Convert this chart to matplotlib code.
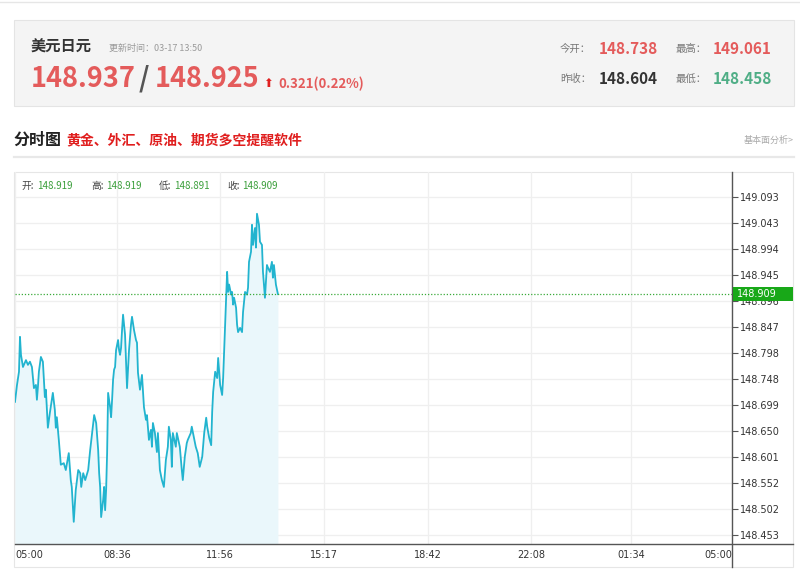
import matplotlib
matplotlib.use('Agg')
import matplotlib.pyplot as plt
from matplotlib.patches import Rectangle
from matplotlib.lines import Line2D

plt.rcParams['font.family'] = ['Noto Sans CJK SC', 'DejaVu Sans']

# minutes after 05:00 and price
minutes = [0, 4, 8, 10, 12, 16, 22, 26, 30, 34, 38, 42, 44, 46, 48, 52, 56, 60, 62, 66,
           70, 76, 80, 82, 84, 88, 92, 98, 102, 108, 112, 114, 118, 122, 127, 131, 133, 137, 141, 147,
           151, 159, 163, 167, 169, 171, 173, 177, 179, 181, 183, 185, 187, 191, 193, 195, 197, 199, 201, 203,
           205, 207, 209, 211, 213, 215, 217, 221, 225, 229, 233, 235, 239, 243, 245, 247, 251, 255, 259, 263,
           265, 269, 273, 275, 277, 281, 285, 287, 291, 295, 299, 303, 307, 309, 313, 315, 317, 323, 325, 331,
           335, 337, 341, 345, 347, 353, 355, 359, 363, 367, 371, 376, 380, 384, 386, 390, 394, 396, 398, 402,
           406, 408, 412, 416, 418, 422, 424, 426, 428, 430, 434, 436, 438, 440, 444, 446, 448, 452, 456, 458,
           462, 466, 468, 470, 474, 476, 478, 482, 484, 486, 490, 492, 496, 498, 502, 506, 508, 512, 516, 518,
           520, 524, 528]
prices = [148.705, 148.737, 148.762, 148.828, 148.794, 148.771, 148.784, 148.775, 148.781, 148.771,
          148.731, 148.737, 148.709, 148.733, 148.762, 148.790, 148.781, 148.714, 148.728, 148.656,
          148.684, 148.722, 148.690, 148.656, 148.676, 148.633, 148.586, 148.589, 148.576, 148.608,
          148.557, 148.544, 148.478, 148.538, 148.576, 148.570, 148.544, 148.570, 148.557, 148.576,
          148.614, 148.680, 148.665, 148.614, 148.570, 148.544, 148.487, 148.519, 148.544, 148.500,
          148.538, 148.608, 148.722, 148.695, 148.676, 148.709, 148.747, 148.766, 148.771, 148.803,
          148.813, 148.822, 148.803, 148.794, 148.807, 148.841, 148.870, 148.832, 148.731, 148.803,
          148.851, 148.866, 148.841, 148.822, 148.817, 148.760, 148.728, 148.756, 148.695, 148.671,
          148.680, 148.633, 148.652, 148.620, 148.665, 148.646, 148.610, 148.646, 148.576, 148.557,
          148.544, 148.595, 148.620, 148.658, 148.633, 148.582, 148.646, 148.620, 148.646, 148.620,
          148.576, 148.557, 148.601, 148.627, 148.633, 148.646, 148.658, 148.639, 148.620, 148.608,
          148.582, 148.601, 148.646, 148.675, 148.658, 148.637, 148.623, 148.686, 148.724, 148.762,
          148.750, 148.788, 148.737, 148.718, 148.750, 148.851, 148.902, 148.951, 148.913, 148.927,
          148.908, 148.913, 148.889, 148.902, 148.883, 148.851, 148.837, 148.845, 148.837, 148.875,
          148.913, 148.908, 148.921, 148.970, 148.989, 149.040, 149.002, 149.034, 148.997, 149.061,
          149.040, 149.008, 149.002, 148.951, 148.902, 148.964, 148.959, 148.951, 148.970, 148.940,
          148.964, 148.927, 148.909]

y_ticks = ['149.093', '149.043', '148.994', '148.945', '148.896', '148.847', '148.798',
           '148.748', '148.699', '148.650', '148.601', '148.552', '148.502', '148.453']
x_ticks = [0, 205, 412, 621, 830, 1036, 1237, 1440]
x_labels = ['05:00', '08:36', '11:56', '15:17', '18:42', '22:08', '01:34', '05:00']
last_price = 148.909
bar_labels = ['开:', '高:', '低:', '收:']
bar_values = ['148.919', '148.919', '148.891', '148.909']

W, H = 800, 585
fig = plt.figure(figsize=(8, 5.85), dpi=100, facecolor='white')
fx = lambda x: x / W
fy = lambda y: 1 - y / H

def txt(x, y, s, **kw):
    kw.setdefault('va', 'center')
    fig.text(fx(x), fy(y), s, **kw)

def hline(x0, x1, y, **kw):
    fig.add_artist(Line2D([fx(x0), fx(x1)], [fy(y), fy(y)], transform=fig.transFigure, **kw))

def vline(x, y0, y1, **kw):
    fig.add_artist(Line2D([fx(x), fx(x)], [fy(y0), fy(y1)], transform=fig.transFigure, **kw))

RED = '#e45b5b'
GREEN_Q = '#4fae86'

# top quote card
hline(0, 800, 1.5, color='#e6e6e6', lw=1)
fig.add_artist(Rectangle((fx(14), fy(106)), fx(780), 86 / H, transform=fig.transFigure,
                         facecolor='#f4f4f4', edgecolor='#e4e4e4', lw=0.8, zorder=-1))
txt(31, 47, '美元日元', fontsize=11, weight='bold', color='#333333')
txt(109, 48, '更新时间：03-17 13:50', fontsize=6.5, color='#9a9a9a')
txt(31, 79, '148.937', fontsize=19.5, weight='bold', color=RED)
txt(139, 79, '/', fontsize=19.5, weight='bold', color='#555555')
txt(155, 79, '148.925', fontsize=19.5, weight='bold', color=RED)
txt(263, 84, '⬆', fontsize=8.5, color='#e02020', family=['DejaVu Sans'])
txt(278, 84, '0.321(0.22%)', fontsize=9.5, weight='bold', color=RED)

txt(560, 49, '今开：', fontsize=7.5, color='#777777')
txt(599, 49, '148.738', fontsize=11, weight='bold', color=RED)
txt(676, 49, '最高：', fontsize=7.5, color='#777777')
txt(713, 49, '149.061', fontsize=11, weight='bold', color=RED)
txt(560, 79, '昨收：', fontsize=7.5, color='#777777')
txt(599, 79, '148.604', fontsize=11, weight='bold', color='#333333')
txt(676, 79, '最低：', fontsize=7.5, color='#777777')
txt(713, 79, '148.458', fontsize=11, weight='bold', color=GREEN_Q)

# section header
txt(13, 140, '分时图', fontsize=11.5, weight='bold', color='#222222')
txt(66, 140, '黄金、外汇、原油、期货多空提醒软件', fontsize=10, weight='bold', color='#e01e1e')
txt(794, 140, '基本面分析>', fontsize=6.5, color='#aaaaaa', ha='right')
hline(14, 794, 157, color='#e8e8e8', lw=1.6)

# chart frame
fig.add_artist(Rectangle((fx(14), fy(567)), fx(779), 395 / H, transform=fig.transFigure,
                         facecolor='white', edgecolor='#e6e6e6', lw=0.8, zorder=-1))

ax = fig.add_axes([fx(15), fy(544), fx(732 - 15), (544 - 172) / H])
ax.set_zorder(2)
ax.set_facecolor('none')
ymin, ymax = 148.436, 149.140
ax.set_xlim(0, 1440)
ax.set_ylim(ymin, ymax)
for s in ax.spines.values():
    s.set_visible(False)

ax.fill_between(minutes, prices, ymin, color='#eaf7fb', lw=0, zorder=1)
ax.set_yticks([float(v) for v in y_ticks])
ax.set_yticklabels(y_ticks)
ax.yaxis.tick_right()
ax.tick_params(axis='y', length=4, width=0.8, color='#555555', pad=1.5,
               labelsize=7, labelcolor='#333333', labelfontfamily='DejaVu Sans')
ax.set_xticks(x_ticks)
ax.set_xticklabels(x_labels)
ax.tick_params(axis='x', length=0, pad=4, labelsize=7, labelcolor='#333333',
               labelfontfamily='DejaVu Sans')
xl = ax.get_xticklabels()
xl[0].set_ha('left')
xl[-1].set_ha('right')
ax.grid(True, color='#efefef', lw=0.9, zorder=0)
ax.set_axisbelow(True)

ax.plot(minutes, prices, color='#22b4cf', lw=1.3, zorder=3)
ax.axhline(last_price, color='#3aaa3a', lw=0.9, ls=(0, (1, 1.5)), zorder=4)

# last-price tag on the right axis
yp = ax.transData.transform((0, last_price))[1]
tag_y = 1 - (fig.transFigure.inverted().transform((0, yp))[1])
fig.add_artist(Rectangle((fx(733), fy(tag_y * H + 7)), fx(60), 14 / H, transform=fig.transFigure,
                         facecolor='#18a818', edgecolor='none', zorder=5))
fig.text(fx(737), fy(tag_y * H), f'{last_price:.3f}', ha='left', va='center', fontsize=7,
         color='white', family='DejaVu Sans', zorder=6)

# axis lines
vline(732, 172, 567, color='#555555', lw=1, zorder=3)
hline(15, 793, 544, color='#555555', lw=1, zorder=3)

# bar info row
xs_lab = [22, 91, 159, 227]
for xpos, lab, val in zip(xs_lab, bar_labels, bar_values):
    txt(xpos, 186, lab, fontsize=7, color='#444444', zorder=4)
    txt(xpos + 15, 186, val, fontsize=7, color='#3a9e3a', zorder=4)

fig.savefig('out.png', dpi=100, facecolor='white')
